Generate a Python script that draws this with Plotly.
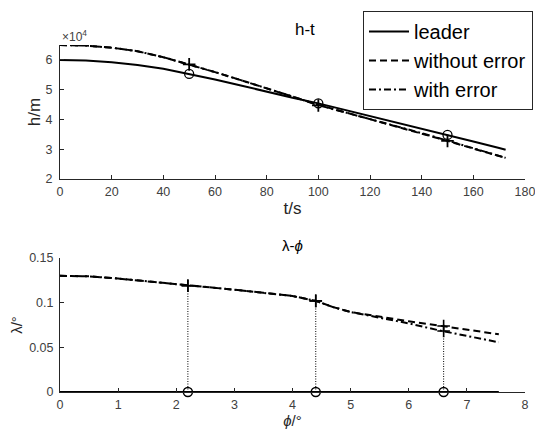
import plotly.graph_objects as go

# ---- top panel: h-t ----
t = [0, 10, 20, 30, 40, 50, 60, 70, 80, 90, 100, 110, 120, 130, 140, 150, 160, 170, 172.5]
h_leader = [60000, 59800, 59200, 58300, 57000, 55300, 53400, 51400, 49300, 47300, 45400,
            43300, 41200, 39100, 37000, 34800, 32600, 30400, 29800]
h_without = [65000, 64800, 64100, 62900, 60900, 58500, 55900, 53200, 50500, 47700, 44900,
             42500, 40100, 37700, 35300, 32800, 30200, 27700, 27100]
h_with = [65000, 64800, 64100, 62900, 60900, 58500, 55900, 53200, 50500, 47700, 44800,
          42500, 40200, 37800, 35400, 32900, 30300, 27700, 27100]
t_mark = [50, 100, 150]
h_mark_leader = [55300, 45400, 34800]
h_mark_follow = [58500, 44700, 32800]
h_tickvals = [20000, 30000, 40000, 50000, 60000]
h_ticktext = ["2", "3", "4", "5", "6"]

# ---- bottom panel: lambda-phi ----
phi = [0, 0.5, 1, 1.5, 2, 2.5, 3, 3.5, 4, 4.4, 4.7, 5, 5.5, 6, 6.5, 7, 7.55]
lam_without = [0.130, 0.1295, 0.127, 0.124, 0.1205, 0.1175, 0.1145, 0.111, 0.1075, 0.102,
               0.095, 0.0895, 0.0840, 0.0792, 0.0745, 0.0697, 0.0646]
lam_with = [0.130, 0.1295, 0.127, 0.124, 0.1205, 0.1175, 0.1145, 0.111, 0.1075, 0.102,
            0.095, 0.0895, 0.0835, 0.0768, 0.0693, 0.0626, 0.0556]
phi_leader = [0, 7.55]
lam_leader = [0, 0]
phi_mark = [2.2, 4.4, 6.6]
lam_mark_leader = [0, 0, 0]
lam_mark_without = [0.119, 0.102, 0.0739]
lam_mark_with = [0.119, 0.102, 0.0683]

BLACK = "black"
GREY = "#404040"
DARK = "#262626"
FONT = "Liberation Sans, Arial, sans-serif"
DASH = "7px,4px"
DASHDOT = "7px,3px,2px,3px"

fig = go.Figure()

# top traces
fig.add_trace(go.Scatter(x=t, y=h_leader, mode="lines", name="leader",
                         line=dict(color=BLACK, width=2, dash="solid"), xaxis="x", yaxis="y"))
fig.add_trace(go.Scatter(x=t, y=h_without, mode="lines", name="without error",
                         line=dict(color=BLACK, width=2, dash=DASH), xaxis="x", yaxis="y"))
fig.add_trace(go.Scatter(x=t, y=h_with, mode="lines", name="with error",
                         line=dict(color=BLACK, width=2, dash=DASHDOT), xaxis="x", yaxis="y"))
fig.add_trace(go.Scatter(x=t_mark, y=h_mark_leader, mode="markers", showlegend=False,
                         marker=dict(symbol="circle-open", size=9, color=BLACK, line=dict(width=1.3)),
                         xaxis="x", yaxis="y", cliponaxis=False))
fig.add_trace(go.Scatter(x=t_mark, y=h_mark_follow, mode="markers", showlegend=False,
                         marker=dict(symbol="cross-thin-open", size=9, color=BLACK,
                                     line=dict(width=1.8, color=BLACK)),
                         xaxis="x", yaxis="y", cliponaxis=False))

# bottom traces
for i in range(len(phi_mark)):
    fig.add_trace(go.Scatter(x=[phi_mark[i], phi_mark[i]], y=[lam_mark_leader[i], lam_mark_without[i]],
                             mode="lines", showlegend=False,
                             line=dict(color=BLACK, width=1, dash="1px,1.5px"), xaxis="x2", yaxis="y2"))
fig.add_trace(go.Scatter(x=phi, y=lam_without, mode="lines", showlegend=False,
                         line=dict(color=BLACK, width=2, dash=DASH), xaxis="x2", yaxis="y2"))
fig.add_trace(go.Scatter(x=phi, y=lam_with, mode="lines", showlegend=False,
                         line=dict(color=BLACK, width=2, dash=DASHDOT), xaxis="x2", yaxis="y2"))
fig.add_trace(go.Scatter(x=phi_leader, y=lam_leader, mode="lines", showlegend=False,
                         line=dict(color=BLACK, width=2.2), xaxis="x2", yaxis="y2", cliponaxis=False))
fig.add_trace(go.Scatter(x=phi_mark, y=lam_mark_leader, mode="markers", showlegend=False,
                         marker=dict(symbol="circle-open", size=9, color=BLACK, line=dict(width=1.5)),
                         xaxis="x2", yaxis="y2", cliponaxis=False))
fig.add_trace(go.Scatter(x=phi_mark + phi_mark, y=lam_mark_without + lam_mark_with, mode="markers",
                         showlegend=False,
                         marker=dict(symbol="cross-thin-open", size=9, color=BLACK,
                                     line=dict(width=1.6, color=BLACK)),
                         xaxis="x2", yaxis="y2", cliponaxis=False))

H = 439
W = 535
L, R = 60, 10
axis_common = dict(showline=True, linecolor=DARK, linewidth=1, ticks="inside", ticklen=4,
                   tickcolor=DARK, tickfont=dict(family=FONT, size=12.5, color=GREY),
                   showgrid=False, zeroline=False, mirror=False, automargin=False,
                   ticklabeloverflow="allow")

fig.update_layout(
    width=W, height=H,
    margin=dict(l=L, r=R, t=0, b=0, autoexpand=False),
    plot_bgcolor="white", paper_bgcolor="white",
    font=dict(family=FONT, color=BLACK),
    xaxis=dict(domain=[0, 1], range=[0, 180], tickvals=[0, 20, 40, 60, 80, 100, 120, 140, 160, 180],
               anchor="y", ticklabelstandoff=1,
               title=dict(text="t/s", font=dict(size=17, color=DARK), standoff=4),
               **axis_common),
    yaxis=dict(domain=[1 - 179 / H, 1 - 45 / H], range=[20000, 65000], tickvals=h_tickvals,
               ticktext=h_ticktext, anchor="x", ticklabelstandoff=4,
               title=dict(text="h/m", font=dict(size=17, color=DARK), standoff=0),
               **axis_common),
    xaxis2=dict(domain=[0, 1], range=[0, 8], tickvals=[0, 1, 2, 3, 4, 5, 6, 7, 8], anchor="y2",
                ticklabelstandoff=1,
                title=dict(text="<i>ϕ</i>/°", font=dict(size=15, color=DARK), standoff=3),
                **axis_common),
    yaxis2=dict(domain=[1 - 392 / H, 1 - 258 / H], range=[0, 0.15], tickvals=[0, 0.05, 0.1, 0.15],
                ticktext=["0", "0.05", "0.1", "0.15"], anchor="x2", ticklabelstandoff=3,
                title=dict(text="λ/°", font=dict(size=15, color=DARK), standoff=2),
                **axis_common),
    legend=dict(x=363 / W, y=1 - 11 / H, xref="container", yref="container",
                xanchor="left", yanchor="top", itemwidth=40,
                bgcolor="white", bordercolor=DARK, borderwidth=1,
                font=dict(family=FONT, size=20, color=BLACK), tracegroupgap=0),
    showlegend=True,
    annotations=[
        dict(text="h-t", x=(305 - L) / (W - L - R), y=1 - 29 / H, xref="x domain", yref="paper",
             xanchor="center", yanchor="middle", showarrow=False,
             font=dict(family=FONT, size=17, color=BLACK)),
        dict(text="×10<sup>4</sup>", x=0.0, y=1 - 36 / H, xref="x domain", yref="paper",
             xanchor="left", yanchor="middle", showarrow=False,
             font=dict(family=FONT, size=12, color=GREY)),
        dict(text="λ-<i>ϕ</i>", x=(292 - L) / (W - L - R), y=1 - 245 / H, xref="x2 domain", yref="paper",
             xanchor="center", yanchor="middle", showarrow=False,
             font=dict(family=FONT, size=15, color=BLACK)),
    ],
)

fig.write_html("out.html", config={"displayModeBar": False},
               post_script="document.body.style.margin='0';")
